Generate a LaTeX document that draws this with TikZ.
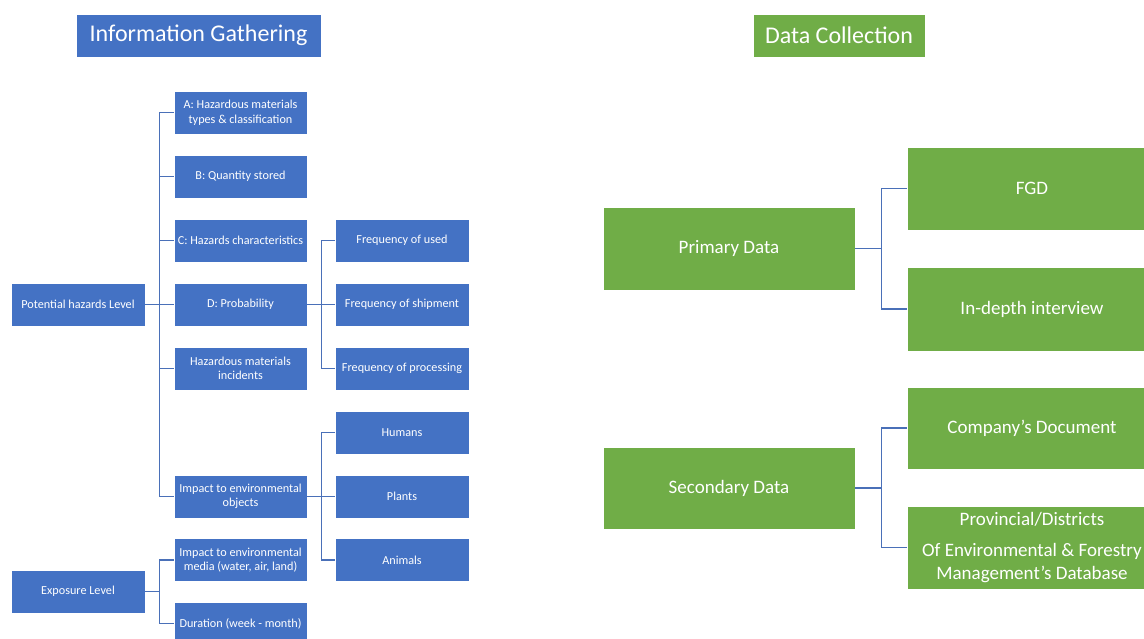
\documentclass[tikz,border=0pt]{standalone}
\usepackage{fontspec}
\setmainfont{Carlito}
\definecolor{boxblue}{HTML}{4472C4}
\definecolor{boxgreen}{HTML}{70AD47}
\definecolor{linkblue}{HTML}{4A70B8}
\tikzset{
  bbox/.style={fill=boxblue, draw=white, line width=0.6pt, text=white,
    font=\fontsize{12.2}{14.5}\selectfont, align=center,
    minimum width=134pt, minimum height=43pt, inner sep=1pt},
  gbox/.style={fill=boxgreen, draw=white, line width=0.6pt, text=white,
    font=\fontsize{19}{23}\selectfont, align=center,
    minimum width=252pt, minimum height=83pt, inner sep=1pt},
  tbox/.style={text=white, font=\fontsize{24}{28}\selectfont,
    minimum height=43pt, inner sep=0pt, draw=white, line width=0.6pt},
  conn/.style={draw=linkblue, line width=1.5pt},
  thinconn/.style={draw=linkblue, line width=1.1pt},
}
\begin{document}
\begin{tikzpicture}[x=1pt,y=-1pt]
\useasboundingbox (0,0) rectangle (1144,639);
% titles
\node[tbox, fill=boxblue, minimum width=245pt] (t1) at (198.5,35.5) {Information Gathering};
\node[tbox, fill=boxgreen, minimum width=172pt] (t2) at (839,35.5) {Data Collection};
% left column
\node[bbox] (pot) at (78,304.5) {Potential hazards Level};
\node[bbox] (exp) at (78,591.5) {Exposure Level};
% middle column
\node[bbox, minimum width=133pt] (A) at (240.5,112.5) {A: Hazardous materials\\types \& classification};
\node[bbox, minimum width=133pt] (B) at (240.5,176.5) {B: Quantity stored};
\node[bbox, minimum width=133pt] (C) at (240.5,240.5) {C: Hazards characteristics};
\node[bbox, minimum width=133pt] (D) at (240.5,304.5) {D: Probability};
\node[bbox, minimum width=133pt] (H) at (240.5,368.5) {Hazardous materials\\incidents};
\node[bbox, minimum width=133pt] (io) at (240.5,496.5) {Impact to environmental\\objects};
\node[bbox, minimum width=133pt] (im) at (240.5,560) {Impact to environmental\\media (water, air, land)};
\node[bbox, minimum width=133pt] (du) at (240.5,623.5) {Duration (week - month)};
% right column
\node[bbox] (f1) at (402,240.5) {Frequency of used};
\node[bbox] (f2) at (402,304.5) {Frequency of shipment};
\node[bbox] (f3) at (402,368.5) {Frequency of processing};
\node[bbox] (hu) at (402,432.5) {Humans};
\node[bbox] (pl) at (402,496.5) {Plants};
\node[bbox] (an) at (402,560) {Animals};
% data collection
\node[gbox] (pd) at (729,248.5) {Primary Data};
\node[gbox, minimum height=82pt] (sd) at (729,488) {Secondary Data};
\node[gbox, minimum width=250pt] (fgd) at (1032,188.5) {FGD};
\node[gbox, minimum width=250pt, minimum height=84pt] (idi) at (1032,309) {In-depth interview};
\node[gbox, minimum width=250pt, minimum height=82pt] (cd) at (1032,428) {Company’s Document};
\node[gbox, minimum width=250pt] (pv) at (1032,547.5) {Provincial/Districts\\[8pt]Of Environmental \& Forestry\\Management’s Database};
% connectors
\foreach \c in {A,B,C,D,H,io} \draw[conn] (pot.east) -- ++(14,0) |- (\c.west);
\foreach \c in {im,du} \draw[conn] (exp.east) -- ++(14,0) |- (\c.west);
\foreach \c in {f1,f2,f3} \draw[conn] (D.east) -- ++(14,0) |- (\c.west);
\foreach \c in {hu,pl,an} \draw[conn] (io.east) -- ++(14,0) |- (\c.west);
\foreach \c in {fgd,idi} \draw[thinconn] (pd.east) -- ++(26,0) |- (\c.west);
\foreach \c in {cd,pv} \draw[thinconn] (sd.east) -- ++(26,0) |- (\c.west);
\end{tikzpicture}
\end{document}
